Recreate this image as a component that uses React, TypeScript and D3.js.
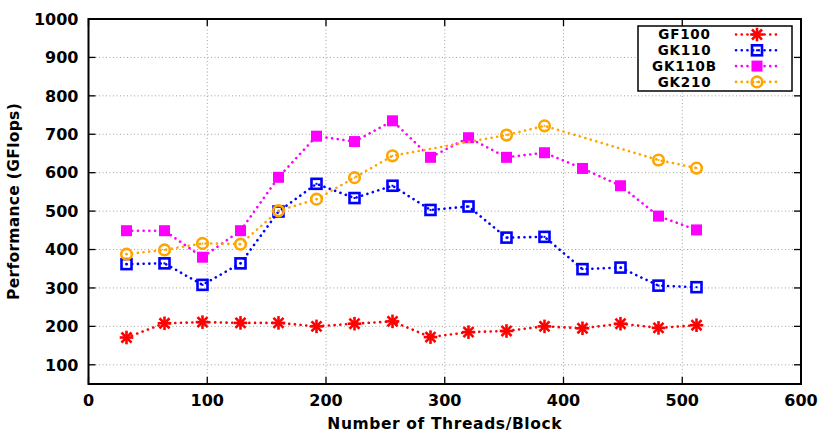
import React from 'react';
import * as d3 from 'd3';

const threads = [32, 64, 96, 128, 160, 192, 224, 256, 288, 320, 352, 384, 416, 448, 480, 512];
const gf100 = [171, 208, 211, 209, 209, 200, 207, 213, 172, 185, 188, 200, 195, 207, 196, 203];
const gk110 = [362, 364, 308, 364, 499, 571, 534, 566, 503, 512, 431, 433, 349, 353, 306, 302];
const gk110b = [449, 449, 380, 449, 588, 695, 681, 735, 640, 691, 640, 652, 611, 566, 487, 451];
const gk210Threads = [32, 64, 96, 128, 160, 192, 224, 256, 352, 384, 480, 512];
const gk210 = [388, 399, 416, 414, 501, 531, 587, 644, 698, 722, 633, 612];

const xTicks = [0, 100, 200, 300, 400, 500, 600];
const yTicks = [100, 200, 300, 400, 500, 600, 700, 800, 900, 1000];

const W = 830;
const H = 436;
const margin = { left: 88.5, right: 29, top: 19, bottom: 52 };
const FONT = 'Verdana, "DejaVu Sans", sans-serif';

type Kind = 'star' | 'openSquare' | 'square' | 'circle';

const series: { name: string; color: string; kind: Kind; xs: number[]; ys: number[] }[] = [
  { name: 'GF100', color: '#ff0000', kind: 'star', xs: threads, ys: gf100 },
  { name: 'GK110', color: '#0000ff', kind: 'openSquare', xs: threads, ys: gk110 },
  { name: 'GK110B', color: '#ff00ff', kind: 'square', xs: threads, ys: gk110b },
  { name: 'GK210', color: '#ffa500', kind: 'circle', xs: gk210Threads, ys: gk210 },
];

const Marker = ({ kind, color, x, y }: { kind: Kind; color: string; x: number; y: number }) => {
  if (kind === 'star') {
    const r = 5.5;
    const d = r * 0.75;
    return (
      <g stroke={color} strokeWidth={2.6} strokeLinecap="square">
        <line x1={x - r} y1={y} x2={x + r} y2={y} />
        <line x1={x} y1={y - r} x2={x} y2={y + r} />
        <line x1={x - d} y1={y - d} x2={x + d} y2={y + d} />
        <line x1={x - d} y1={y + d} x2={x + d} y2={y - d} />
      </g>
    );
  }
  if (kind === 'openSquare') {
    return (
      <g>
        <rect x={x - 5} y={y - 5} width={10} height={10} fill="none" stroke={color} strokeWidth={2.6} />
        <rect x={x - 1} y={y - 1} width={2} height={2} fill={color} />
      </g>
    );
  }
  if (kind === 'square') {
    return <rect x={x - 5.5} y={y - 5.5} width={11} height={11} fill={color} />;
  }
  return (
    <g>
      <circle cx={x} cy={y} r={5.3} fill="none" stroke={color} strokeWidth={2.6} />
      <circle cx={x} cy={y} r={1} fill={color} />
    </g>
  );
};

export default function App() {
  const x = d3.scaleLinear().domain([0, 600]).range([margin.left, W - margin.right]);
  const y = d3.scaleLinear().domain([50, 1000]).range([H - margin.bottom, margin.top]);
  const x0 = x.range()[0];
  const x1 = x.range()[1];
  const y0 = y.range()[0];
  const y1 = y.range()[1];

  const lineGen = d3
    .line<[number, number]>()
    .x((d) => x(d[0]))
    .y((d) => y(d[1]));

  const legendX = 638;
  const legendY = 26;
  const rowH = 15.8;

  return (
    <svg
      width={W}
      height={H}
      style={{ position: 'absolute', left: 0, top: 0, background: '#fff' }}
      fontFamily={FONT}
      fontWeight="bold"
    >
      <rect width={W} height={H} fill="#fff" />
      {/* grid */}
      <g stroke="#a0a0a0" strokeWidth={1} strokeDasharray="1 2.5">
        {xTicks.filter((t) => t > 0 && t < 600).map((t) => (
          <line key={'gx' + t} x1={x(t)} x2={x(t)} y1={y0} y2={y1} />
        ))}
        {yTicks.filter((t) => t < 1000).map((t) => (
          <line key={'gy' + t} x1={x0} x2={x1} y1={y(t)} y2={y(t)} />
        ))}
      </g>
      {/* ticks, mirrored inward */}
      <g stroke="#000" strokeWidth={1.3}>
        {xTicks.map((t) => (
          <g key={'tx' + t}>
            <line x1={x(t)} x2={x(t)} y1={y0} y2={y0 - 7} />
            <line x1={x(t)} x2={x(t)} y1={y1} y2={y1 + 7} />
          </g>
        ))}
        {yTicks.map((t) => (
          <g key={'ty' + t}>
            <line x1={x0} x2={x0 + 7} y1={y(t)} y2={y(t)} />
            <line x1={x1} x2={x1 - 7} y1={y(t)} y2={y(t)} />
          </g>
        ))}
      </g>
      {/* series */}
      {series.map((s) => {
        const pts = s.xs.map((t, i) => [t, s.ys[i]] as [number, number]);
        return (
          <g key={s.name}>
            <path
              d={lineGen(pts) || ''}
              fill="none"
              stroke={s.color}
              strokeWidth={2.6}
              strokeDasharray="0.1 5.6"
              strokeLinecap="round"
            />
            {pts.map((p, i) => (
              <Marker key={i} kind={s.kind} color={s.color} x={x(p[0])} y={y(p[1])} />
            ))}
          </g>
        );
      })}
      {/* border */}
      <rect x={x0} y={y1} width={x1 - x0} height={y0 - y1} fill="none" stroke="#000" strokeWidth={2} />
      {/* tick labels */}
      <g fontSize={16} fill="#000">
        {yTicks.map((t) => (
          <text key={'ly' + t} x={x0 - 10} y={y(t)} dy="0.36em" textAnchor="end">
            {t}
          </text>
        ))}
        {xTicks.map((t) => (
          <text key={'lx' + t} x={x(t)} y={y0 + 22} textAnchor="middle">
            {t}
          </text>
        ))}
      </g>
      {/* axis titles */}
      <text x={(x0 + x1) / 2} y={429} textAnchor="middle" fontSize={15.5} letterSpacing={0.6}>
        Number of Threads/Block
      </text>
      <text
        transform={`translate(19,${(y0 + y1) / 2}) rotate(-90)`}
        textAnchor="middle"
        fontSize={15.5}
        letterSpacing={0.3}
      >
        Performance (GFlops)
      </text>
      {/* legend */}
      <rect x={legendX} y={legendY} width={154} height={65} fill="#fff" stroke="#000" strokeWidth={1.5} />
      {series.map((s, i) => {
        const cy = legendY + 8.5 + i * rowH;
        return (
          <g key={'lg' + s.name}>
            <text x={684.5} y={cy} dy="0.36em" textAnchor="middle" fontSize={13.5} letterSpacing={0.8}>
              {s.name}
            </text>
            <line
              x1={736}
              x2={778}
              y1={cy}
              y2={cy}
              stroke={s.color}
              strokeWidth={2.6}
              strokeDasharray="0.1 5.6"
              strokeLinecap="round"
            />
            <Marker kind={s.kind} color={s.color} x={757} y={cy} />
          </g>
        );
      })}
    </svg>
  );
}
